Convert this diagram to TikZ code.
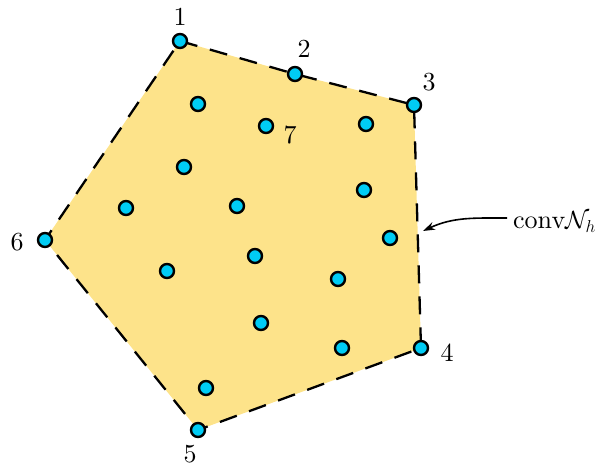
\documentclass[tikz,border=0pt]{standalone}
\usepackage{fontspec}
\setmainfont{lmroman10-regular.otf}
\usetikzlibrary{arrows.meta}
\definecolor{hullfill}{HTML}{FDE38A}
\definecolor{dotfill}{HTML}{00CCF5}
\begin{document}
\begin{tikzpicture}[x=1pt,y=-1pt,
  pt/.style={circle,draw=black,fill=dotfill,line width=2.4pt,minimum size=14pt,inner sep=0pt},
  lbl/.style={font=\fontsize{26}{30}\selectfont,inner sep=0pt},
  hull/.style={draw=black,line width=2.3pt,dash pattern=on 18pt off 13pt,fill=hullfill}]
\useasboundingbox (0,0) rectangle (600,467);
\clip (0,0) rectangle (600,467);
\coordinate (c1) at (180,41);
\coordinate (c2) at (295,74);
\coordinate (c3) at (414,105);
\coordinate (c4) at (421,348);
\coordinate (c5) at (198,430);
\coordinate (c6) at (45,240);
\path[hull] (c1) -- (c2) -- (c3) -- (c4) -- (c5) -- (c6) -- cycle;
\node[pt] (p1) at (c1) {};
\node[pt] (p2) at (c2) {};
\node[pt] (p3) at (c3) {};
\node[pt] (p4) at (c4) {};
\node[pt] (p5) at (c5) {};
\node[pt] (p6) at (c6) {};
\node[pt] (q1) at (198,104) {};
\node[pt] (q7) at (266,126) {};
\node[pt] (q3) at (366,124) {};
\node[pt] (q4) at (184,167) {};
\node[pt] (q5) at (364,190) {};
\node[pt] (q6) at (126,208) {};
\node[pt] (q8) at (237,206) {};
\node[pt] (q9) at (390,238) {};
\node[pt] (q10) at (255,256) {};
\node[pt] (q11) at (167,271) {};
\node[pt] (q12) at (338,279) {};
\node[pt] (q13) at (261,323) {};
\node[pt] (q14) at (342,348) {};
\node[pt] (q15) at (206,388) {};
\node[lbl] (l1) at (180,17) {1};
\node[lbl] (l2) at (304,49) {2};
\node[lbl] (l3) at (429,82) {3};
\node[lbl] (l4) at (447,353) {4};
\node[lbl] (l5) at (190,454) {5};
\node[lbl] (l6) at (17,242) {6};
\node[lbl] (l7) at (290,135) {7};
\node[lbl,anchor=west] (conv) at (513,222) {conv$\mathcal{N}_h$};
\coordinate (tip) at (423,231);
\draw[line width=1.6pt,-{Stealth[length=12pt,width=8pt]}] (conv.west) ++(-6,-4) to[out=180,in=25] (tip);
\end{tikzpicture}
\end{document}
